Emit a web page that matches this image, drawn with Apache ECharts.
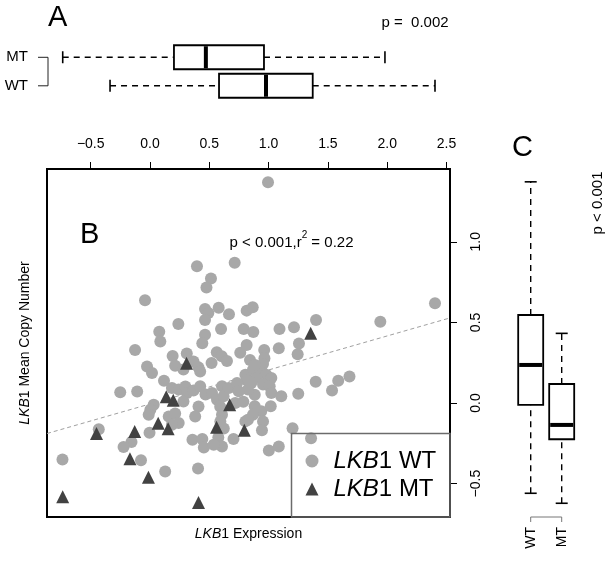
<!DOCTYPE html>
<html>
<head>
<meta charset="utf-8">
<script src="https://cdn.jsdelivr.net/npm/echarts@6/dist/echarts.min.js"></script>
<style>
html,body{margin:0;padding:0;background:#fff;}
#chart{width:612px;height:565px;}
</style>
</head>
<body>
<div id="chart"></div>
<script>
// ---------- data ----------
const xTicks = [-0.5, 0, 0.5, 1, 1.5, 2, 2.5];
const yTicks = [-0.5, 0, 0.5, 1];
const groupNames = ['WT', 'MT'];
// panel A: expression boxplots [min, q1, median, q3, max]
const exprWT = [-0.337, 0.582, 0.978, 1.372, 2.403];
const exprMT = [-0.736, 0.202, 0.471, 0.961, 1.981];
// panel C: copy number boxplots [min, q1, median, q3, max]
const copyWT = [-0.560, -0.012, 0.236, 0.546, 1.372];
const copyMT = [-0.622, -0.225, -0.136, 0.118, 0.432];
// regression fit [intercept, slope]
const fitCoef = [-0.006, 0.211];
// scatter points [expression, copy number]
const wtPoints = [
[0.995,1.369],[0.396,0.848],[0.714,0.870],[0.514,0.772],[0.476,0.717],[-0.042,0.637],[0.464,0.583],[0.579,0.591],
[0.492,0.558],[0.666,0.550],[0.815,0.573],[0.866,0.594],[0.464,0.515],[0.239,0.490],[0.599,0.459],[0.790,0.459],
[0.871,0.440],[1.092,0.459],[1.214,0.470],[1.400,0.515],[1.942,0.504],[2.403,0.619],[0.078,0.442],[0.464,0.423],
[0.087,0.382],[0.441,0.370],[-0.126,0.329],[0.191,0.292],[0.310,0.307],[0.563,0.315],[0.605,0.290],[0.761,0.311],
[0.815,0.360],[0.963,0.329],[1.086,0.340],[1.256,0.369],[1.245,0.302],
[-0.025,0.226],[0.017,0.186],[0.212,0.231],[0.282,0.208],[0.367,0.257],[0.409,0.221],[0.423,0.195],[0.519,0.248],
[0.649,0.261],[0.965,0.278],[0.953,0.242],[0.804,0.176],
[0.868,0.207],[0.925,0.197],[0.981,0.176],[1.023,0.155],[0.896,0.155],[0.854,0.124],[0.953,0.114],[1.009,0.104],
[0.883,0.051],[1.023,0.062],[0.826,0.083],[0.815,0.143],[0.843,0.267],[0.885,0.236],
[0.118,0.138],[0.185,0.093],[0.242,0.084],[0.298,0.102],[0.312,0.062],[0.367,0.078],[0.423,0.104],[0.468,0.053],
[-0.251,0.066],[-0.108,0.071],[0.282,0.009],[0.523,0.062],[0.565,0.020],[0.607,0.104],[0.620,0.042],[0.664,0.093],
[0.734,0.124],[0.748,0.073],[0.719,0.000],[0.787,0.008],[0.409,-0.022],[0.381,-0.084],[0.592,-0.023],[0.607,-0.073],
[0.593,-0.114],[0.031,-0.011],[0.003,-0.042],[-0.011,-0.073],[0.158,-0.084],[0.212,-0.065],[0.242,-0.124],[0.185,-0.135],
[-0.432,-0.163],[-0.004,-0.185],[0.804,-0.114],[0.622,-0.158],[0.358,-0.228],[0.441,-0.223],[0.454,-0.276],[0.576,-0.214],
[0.607,-0.270],[0.537,-0.259],[0.704,-0.223],[-0.156,-0.242],[-0.223,-0.273],[-0.076,-0.355],[-0.738,-0.350],[0.128,-0.425],
[0.405,-0.406],[1.107,0.042],[1.250,0.057],[1.397,0.132],[1.587,0.138],[1.682,0.164],[1.535,0.078],[0.883,-0.020],
[0.938,-0.051],[1.018,-0.020],[0.953,-0.114],[0.868,-0.073],[0.826,-0.104],[0.944,-0.169],[1.202,-0.156],[1.358,-0.218],
[1.002,-0.295],[1.086,-0.270]
];
const mtPoints = [
[1.355,0.433],[0.308,0.247],[0.137,0.038],[0.196,0.017],[0.672,-0.011],[0.069,-0.125],[0.153,-0.159],[-0.451,-0.189],
[-0.129,-0.177],[0.561,-0.151],[0.795,-0.169],[-0.169,-0.346],[-0.013,-0.461],[-0.736,-0.582],[0.409,-0.618]
];

// ---------- layout ----------
const xMin = -0.8685, xMax = 2.5295;
const yMin = -0.7072, yMax = 1.4516;
const FONT = 'Liberation Sans, Arial, Helvetica, sans-serif';
const fmt = v => v.toFixed(1).replace('-', '\u2212');

const fitLine = [xMin, xMax].map(x => [x, fitCoef[0] + fitCoef[1] * x]);

function boxRender(horizontal, halfBox, halfCap) {
  return function (params, api) {
    const cat = api.value(0);
    const v = [1, 2, 3, 4, 5].map(i => api.value(i));
    const P = v.map(val => horizontal ? api.coord([val, cat]) : api.coord([cat, val]));
    const off = (p, d) => horizontal ? [p[0], p[1] + d] : [p[0] + d, p[1]];
    const seg = (a, b, style) => ({ type: 'line', shape: { x1: a[0], y1: a[1], x2: b[0], y2: b[1] }, style: style });
    const dash = { stroke: '#000', lineWidth: 1.4, lineDash: [6, 5] };
    const solid = { stroke: '#000', lineWidth: 1.6 };
    let rect;
    if (horizontal) {
      rect = { x: P[1][0], y: P[1][1] - halfBox, width: P[3][0] - P[1][0], height: 2 * halfBox };
    } else {
      rect = { x: P[1][0] - halfBox, y: P[3][1], width: 2 * halfBox, height: P[1][1] - P[3][1] };
    }
    return {
      type: 'group',
      children: [
        seg(P[0], P[1], dash),
        seg(P[3], P[4], dash),
        seg(off(P[0], -halfCap), off(P[0], halfCap), solid),
        seg(off(P[4], -halfCap), off(P[4], halfCap), solid),
        { type: 'rect', shape: rect, style: { fill: '#fff', stroke: '#000', lineWidth: 1.8 } },
        seg(off(P[2], -halfBox + 1), off(P[2], halfBox - 1), { stroke: '#000', lineWidth: 4 })
      ]
    };
  };
}

const chart = echarts.init(document.getElementById('chart'), null, { renderer: 'canvas' });
const nameRich = {
  i: { fontStyle: 'italic', fontSize: 14, fontFamily: FONT, color: '#000' },
  n: { fontSize: 14, fontFamily: FONT, color: '#000' }
};
const noLine = { show: false, onZero: false };

const option = {
  animation: false,
  backgroundColor: '#fff',
  textStyle: { fontFamily: FONT },
  grid: [
    { left: 47, top: 169, width: 403, height: 348, show: true, borderColor: '#000', borderWidth: 2, backgroundColor: 'transparent' },
    { left: 47, top: 43, width: 403, height: 57 },
    { left: 515.2, top: 169, width: 62, height: 348 }
  ],
  xAxis: [
    { gridIndex: 0, type: 'value', position: 'top', min: xMin, max: xMax,
      axisLine: noLine, splitLine: { show: false },
      axisTick: { show: true, length: 7, customValues: xTicks, lineStyle: { color: '#000', width: 1 } },
      axisLabel: { show: true, customValues: xTicks, formatter: fmt, margin: 18, fontSize: 14, color: '#000', fontFamily: FONT } },
    { gridIndex: 0, type: 'value', position: 'bottom', min: xMin, max: xMax,
      axisLine: noLine, axisTick: { show: false }, axisLabel: { show: false }, splitLine: { show: false },
      name: '{i|LKB}{n|1 Expression}', nameLocation: 'middle', nameGap: 10, nameTextStyle: { rich: nameRich } },
    { gridIndex: 1, type: 'value', min: xMin, max: xMax, show: false, axisLine: noLine },
    { gridIndex: 2, type: 'category', data: groupNames, position: 'bottom',
      axisLine: noLine, axisTick: { show: false }, splitLine: { show: false },
      axisLabel: { rotate: 90, margin: 10, fontSize: 14, color: '#000', fontFamily: FONT } }
  ],
  yAxis: [
    { gridIndex: 0, type: 'value', position: 'right', min: yMin, max: yMax,
      axisLine: noLine, splitLine: { show: false },
      axisTick: { show: true, length: 7, customValues: yTicks, lineStyle: { color: '#000', width: 1 } },
      axisLabel: { show: true, customValues: yTicks, formatter: fmt, rotate: 90, margin: 19, fontSize: 14, color: '#000', fontFamily: FONT } },
    { gridIndex: 0, type: 'value', position: 'left', min: yMin, max: yMax,
      axisLine: noLine, axisTick: { show: false }, axisLabel: { show: false }, splitLine: { show: false },
      name: '{i|LKB}{n|1 Mean Copy Number}', nameLocation: 'middle', nameGap: 15, nameTextStyle: { rich: nameRich } },
    { gridIndex: 1, type: 'category', data: groupNames,
      axisLine: noLine, axisTick: { show: false }, splitLine: { show: false },
      axisLabel: { margin: 19, fontSize: 15, color: '#000', fontFamily: FONT } },
    { gridIndex: 2, type: 'value', min: yMin, max: yMax, show: false, axisLine: noLine }
  ],
  legend: {
    orient: 'vertical', left: 305.5, top: 449, padding: 0, itemGap: 4,
    itemWidth: 13, itemHeight: 13,
    data: ['LKB1 WT', 'LKB1 MT'],
    formatter: name => '{i|LKB}{n|1 ' + name.split(' ')[1] + '}',
    textStyle: {
      rich: {
        i: { fontStyle: 'italic', fontSize: 24, fontFamily: FONT, color: '#000', padding: [0, 0, 0, 10] },
        n: { fontSize: 24, fontFamily: FONT, color: '#000' }
      }
    }
  },
  series: [
    { type: 'line', xAxisIndex: 0, yAxisIndex: 0, data: fitLine, showSymbol: false, silent: true, z: 1,
      lineStyle: { color: '#a0a0a0', width: 1, type: [4, 3] } },
    { name: 'LKB1 WT', type: 'scatter', xAxisIndex: 0, yAxisIndex: 0, data: wtPoints, symbol: 'circle', symbolSize: 12, z: 2,
      itemStyle: { color: '#a8a8a8', opacity: 1 } },
    { name: 'LKB1 MT', type: 'scatter', xAxisIndex: 0, yAxisIndex: 0, data: mtPoints, symbol: 'triangle', symbolSize: 13, z: 3,
      itemStyle: { color: '#424242', opacity: 1 } },
    { type: 'custom', xAxisIndex: 2, yAxisIndex: 2, renderItem: boxRender(true, 12, 6),
      encode: { x: [1, 2, 3, 4, 5], y: 0 },
      data: [[0].concat(exprWT), [1].concat(exprMT)] },
    { type: 'custom', xAxisIndex: 3, yAxisIndex: 3, renderItem: boxRender(false, 12.5, 6),
      encode: { x: 0, y: [1, 2, 3, 4, 5] },
      data: [[0].concat(copyWT), [1].concat(copyMT)] }
  ],
  graphic: [
    { type: 'text', x: 48, y: 18, style: { text: 'A', font: '29px ' + FONT, fill: '#000', verticalAlign: 'middle' } },
    { type: 'text', x: 80, y: 235, style: { text: 'B', font: '29px ' + FONT, fill: '#000', verticalAlign: 'middle' } },
    { type: 'text', x: 512, y: 148, style: { text: 'C', font: '29px ' + FONT, fill: '#000', verticalAlign: 'middle' } },
    { type: 'text', x: 381.5, y: 23, style: { text: 'p =  0.002', font: '15px ' + FONT, fill: '#000', verticalAlign: 'middle' } },
    { type: 'text', x: 229.5, y: 240, style: {
        text: '{a|p < 0.001,r}{s|2}{a| = 0.22}', verticalAlign: 'middle',
        rich: {
          a: { fontSize: 15, lineHeight: 20, fontFamily: FONT, fill: '#000', verticalAlign: 'bottom' },
          s: { fontSize: 10, lineHeight: 11, fontFamily: FONT, fill: '#000', verticalAlign: 'top' }
        } } },
    { type: 'text', x: 598, y: 203, rotation: Math.PI / 2,
      style: { text: 'p < 0.001', font: '15px ' + FONT, fill: '#000', align: 'center', verticalAlign: 'middle' } },
    { type: 'polyline', shape: { points: [[38, 57.3], [48, 57.3], [48, 85.8], [38, 85.8]] },
      style: { stroke: '#222', lineWidth: 1, fill: null } },
    { type: 'polyline', shape: { points: [[530.7, 522], [530.7, 517], [561.7, 517], [561.7, 522]] },
      style: { stroke: '#777', lineWidth: 1, fill: null } },
    { type: 'rect', z: 10, shape: { x: 291.5, y: 433.5, width: 158.5, height: 83.5 },
      style: { stroke: '#6b6b6b', lineWidth: 1.5, fill: null } }
  ]
};
chart.setOption(option);
</script>
</body>
</html>
